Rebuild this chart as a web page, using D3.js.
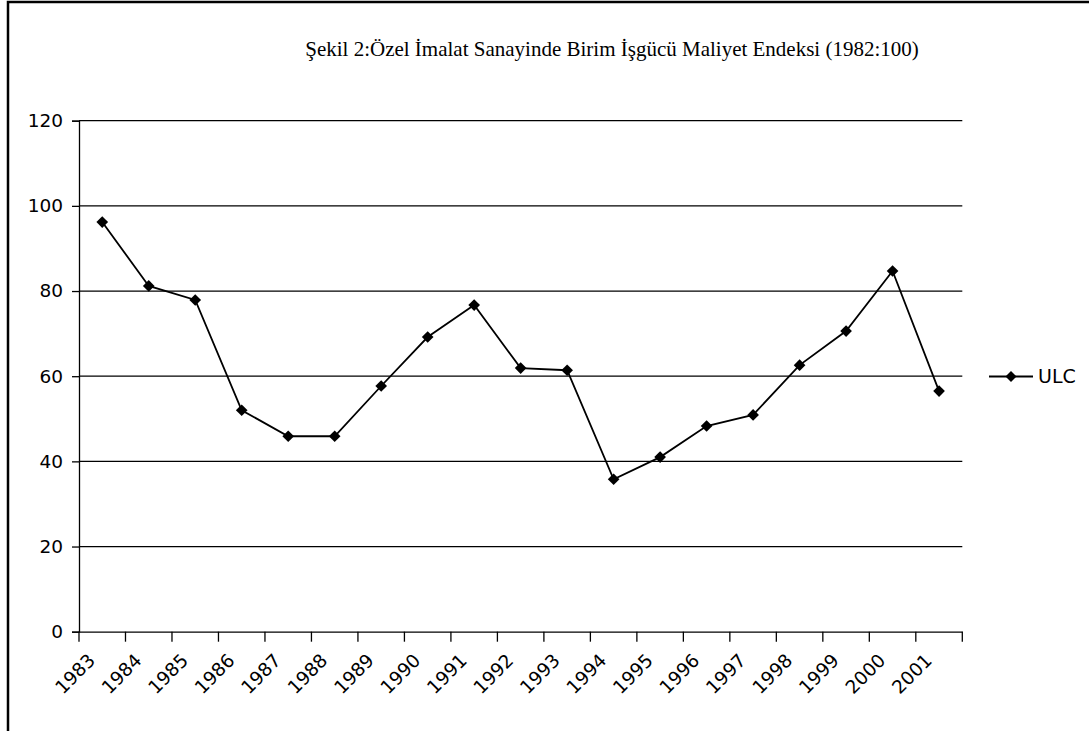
<!DOCTYPE html>
<html>
<head>
<meta charset="utf-8">
<script src="https://cdn.jsdelivr.net/npm/d3@7"></script>
<style>
  body { margin: 0; background: #fff; }
  .tick text { font-family: 'DejaVu Sans', sans-serif; font-size: 18.5px; fill: #000; }
  .title { font-family: 'Liberation Serif', 'Times New Roman', serif; font-size: 21px; }
  .legend text { font-family: 'DejaVu Sans', sans-serif; font-size: 19px; }
</style>
</head>
<body>
<div id="chart"></div>
<script>
const years = ['1983', '1984', '1985', '1986', '1987', '1988', '1989', '1990', '1991', '1992',
               '1993', '1994', '1995', '1996', '1997', '1998', '1999', '2000', '2001']
const ulc = [96.2, 81.2, 77.9, 52.0, 45.9, 45.9, 57.7, 69.2, 76.7, 61.9,
             61.4, 35.8, 41.0, 48.3, 50.9, 62.6, 70.6, 84.7, 56.5]
const yTicks = [0, 20, 40, 60, 80, 100, 120]
const seriesName = 'ULC'
const title = 'Şekil 2:Özel İmalat Sanayinde Birim İşgücü Maliyet Endeksi (1982:100)'

const W = 1089, H = 731
const margin = { top: 120.7, left: 79, right: 126.7, bottom: 99.3 }
const width = W - margin.left - margin.right,
      height = H - margin.top - margin.bottom

const svg = d3.select('#chart').append('svg')
  .attr('width', W)
  .attr('height', H)

// outer frame (clipped on right and bottom like the original)
svg.append('rect')
  .attr('x', 8).attr('y', 2)
  .attr('width', W + 20).attr('height', H + 20)
  .attr('fill', 'none')
  .attr('stroke', '#000')
  .attr('stroke-width', 2.5)

svg.append('text').classed('title', true)
  .attr('x', 612)
  .attr('y', 56)
  .attr('text-anchor', 'middle')
  .text(title)

const xScale = d3.scaleBand()
  .domain(years)
  .range([0, width])

const yScale = d3.scaleLinear()
  .domain([0, 120])
  .range([height, 0])

const g = svg.append('g')
  .attr('transform', 'translate(' + margin.left + ', ' + margin.top + ')')

// gridlines
g.append('g').classed('grid', true)
  .selectAll('line')
  .data(yTicks.filter(d => d > 0)).enter()
  .append('line')
  .attr('x1', 0).attr('x2', width)
  .attr('y1', d => yScale(d)).attr('y2', d => yScale(d))
  .attr('stroke', '#000')
  .attr('stroke-width', 1.2)

const yAxis = d3.axisLeft(yScale)
  .tickValues(yTicks)
  .tickSize(7)
  .tickPadding(9)
g.append('g').classed('y-axis', true)
  .call(yAxis)
  .call(a => a.selectAll('line, path').attr('stroke', '#000').attr('stroke-width', 1.3))

// x axis: ticks on band boundaries
const xAxis = d3.axisBottom(xScale)
  .tickSize(0)
  .tickSizeOuter(0)
  .tickFormat(d => d)
const xg = g.append('g').classed('x-axis', true)
  .attr('transform', 'translate(0, ' + height + ')')
  .call(xAxis)
xg.select('.domain').attr('stroke', '#000').attr('stroke-width', 1.3)
xg.selectAll('.tick text')
  .attr('text-anchor', 'end')
  .attr('dy', null)
  .attr('y', 0)
  .attr('transform', 'translate(-6, 30) rotate(-45)')
xg.selectAll('.boundary')
  .data(d3.range(years.length + 1)).enter()
  .append('line').classed('boundary', true)
  .attr('x1', i => i * xScale.step()).attr('x2', i => i * xScale.step())
  .attr('y1', 0).attr('y2', 10)
  .attr('stroke', '#000')
  .attr('stroke-width', 1.3)

const cx = (d, i) => xScale(years[i]) + xScale.bandwidth() / 2

const line = d3.line()
  .x(cx)
  .y(d => yScale(d))

g.append('path').datum(ulc)
  .attr('d', line)
  .attr('fill', 'none')
  .attr('stroke', '#000')
  .attr('stroke-width', 1.8)

const diamond = d3.symbol().type(d3.symbolSquare).size(68)

g.append('g').classed('markers', true)
  .selectAll('path')
  .data(ulc).enter()
  .append('path')
  .attr('d', diamond)
  .attr('transform', (d, i) => 'translate(' + cx(d, i) + ', ' + yScale(d) + ') rotate(45)')
  .attr('fill', '#000')

// legend
const legend = svg.append('g').classed('legend', true)
  .attr('transform', 'translate(989, 376.5)')
legend.append('line')
  .attr('x1', 0).attr('x2', 44)
  .attr('stroke', '#000')
  .attr('stroke-width', 1.8)
legend.append('path')
  .attr('d', d3.symbol().type(d3.symbolSquare).size(60))
  .attr('transform', 'translate(22, 0) rotate(45)')
legend.append('text')
  .attr('x', 49)
  .attr('y', 0)
  .attr('dy', '0.36em')
  .text(seriesName)
</script>
</body>
</html>
